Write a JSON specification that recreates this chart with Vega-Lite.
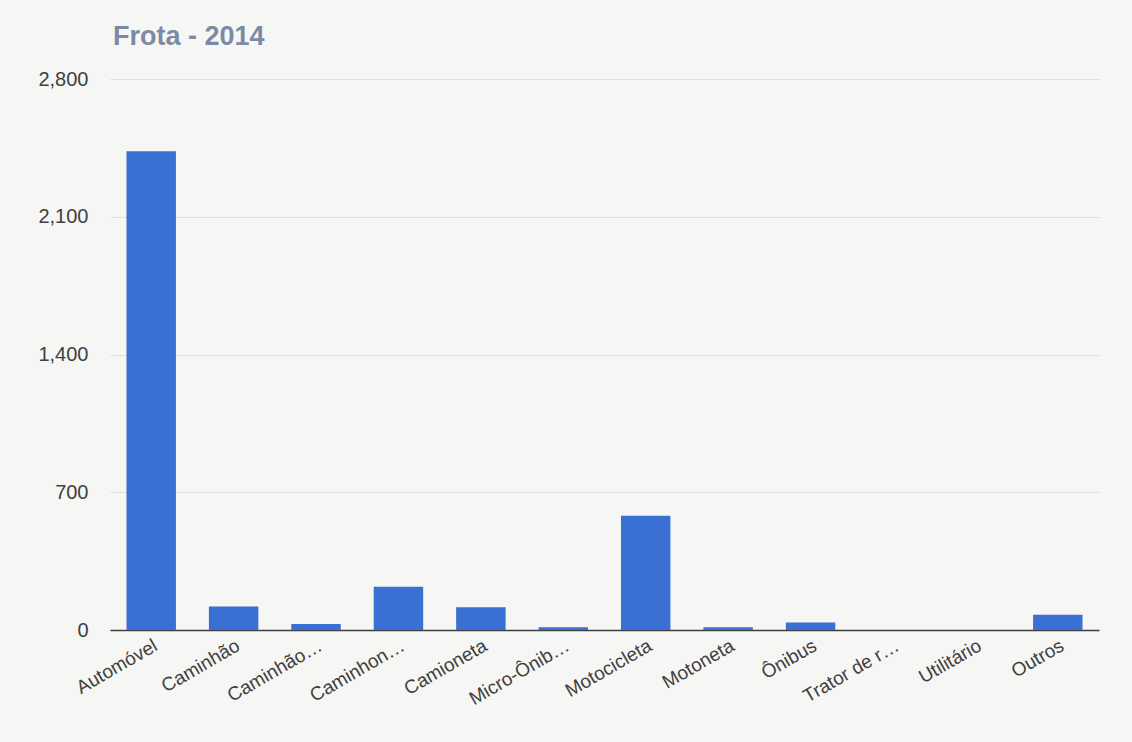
{
  "$schema": "https://vega.github.io/schema/vega-lite/v6.json",
  "autosize": {"type": "none"},
  "padding": {"left": 110, "top": 79, "right": 33, "bottom": 112},
  "width": 989,
  "height": 551,
  "background": "#f6f6f4",
  "title": {
    "text": "Frota - 2014",
    "anchor": "start",
    "frame": "group",
    "dx": 3,
    "offset": 18,
    "fontSize": 27,
    "fontWeight": "bold",
    "color": "#7b8ba6",
    "font": "Liberation Sans"
  },
  "config": {
    "view": {"stroke": null},
    "font": "Liberation Sans"
  },
  "data": {
    "values": [
      {"tipo": "Automóvel", "frota": 2433},
      {"tipo": "Caminhão", "frota": 120},
      {"tipo": "Caminhão…", "frota": 30},
      {"tipo": "Caminhon…", "frota": 220},
      {"tipo": "Camioneta", "frota": 115},
      {"tipo": "Micro-Ônib…", "frota": 14},
      {"tipo": "Motocicleta", "frota": 580},
      {"tipo": "Motoneta", "frota": 14},
      {"tipo": "Ônibus", "frota": 38},
      {"tipo": "Trator de r…", "frota": 0},
      {"tipo": "Utilitário", "frota": 0},
      {"tipo": "Outros", "frota": 78}
    ]
  },
  "mark": {"type": "bar", "color": "#3a6fd3"},
  "encoding": {
    "x": {
      "field": "tipo",
      "type": "nominal",
      "sort": null,
      "scale": {"paddingInner": 0.4, "paddingOuter": 0.2},
      "axis": {
        "title": null,
        "labelAngle": -30,
        "labelFontSize": 19,
        "labelColor": "#404040",
        "labelPadding": 6,
        "ticks": false,
        "domainColor": "#404040",
        "domainWidth": 1.5,
        "labelLimit": 250
      }
    },
    "y": {
      "field": "frota",
      "type": "quantitative",
      "scale": {"domain": [0, 2800]},
      "axis": {
        "title": null,
        "values": [0, 700, 1400, 2100, 2800],
        "format": ",d",
        "labelFontSize": 20,
        "labelColor": "#404040",
        "labelPadding": 22,
        "ticks": false,
        "domain": false,
        "gridColor": "#e0e0e0"
      }
    }
  }
}
